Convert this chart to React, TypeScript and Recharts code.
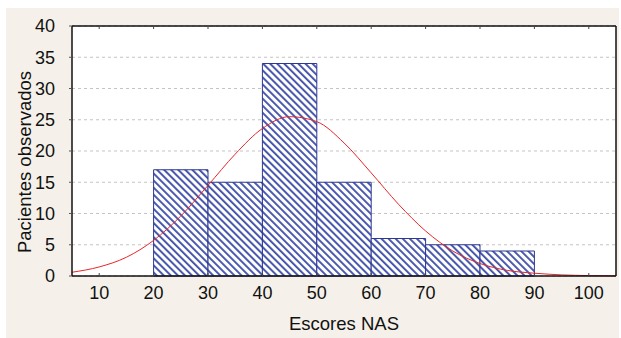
import {
  ComposedChart,
  Line,
  XAxis,
  YAxis,
  CartesianGrid,
  ReferenceArea,
} from "recharts";

// histogram bins (edges) and observed counts
const binEdges = [20, 30, 40, 50, 60, 70, 80, 90];
const binCounts = [17, 15, 34, 15, 6, 5, 4];

// expected normal curve
const curveX = [5, 10, 15, 20, 25, 30, 35, 40, 45, 50, 55, 60, 65, 70, 75, 80, 85, 90, 95, 100, 105];
const curveY = [0.6, 1.45, 3.0, 5.7, 9.6, 14.5, 19.5, 23.6, 25.5, 24.7, 21.3, 16.5, 11.5, 7.2, 4.0, 2.0, 0.9, 0.45, 0.18, 0.07, 0.03];

const xTicks = [10, 20, 30, 40, 50, 60, 70, 80, 90, 100];
const yTicks = [0, 5, 10, 15, 20, 25, 30, 35, 40];

const curve = curveX.map((x, i) => ({ x, y: curveY[i] }));
const bins = binCounts.map((n, i) => ({ from: binEdges[i], to: binEdges[i + 1], n }));

const FONT = "'Liberation Sans', Arial, sans-serif";
const blank = () => "";

export default function App() {
  return (
    <div style={{ position: "absolute", left: 0, top: 0, width: 621, height: 338, background: "#fff" }}>
      <div
        style={{ position: "absolute", left: 6, top: 8, width: 613, height: 330, background: "#f5f1ea" }}
      />
      <div style={{ position: "absolute", left: 0, top: 0 }}>
        <ComposedChart
          width={621}
          height={338}
          data={curve}
          margin={{ top: 26, right: 5, bottom: 0, left: 0 }}
          style={{ fontFamily: FONT }}
        >
          <defs>
            <pattern
              id="hatch"
              patternUnits="userSpaceOnUse"
              width="5"
              height="5"
              patternTransform="rotate(-45)"
            >
              <rect width="5" height="5" fill="#ffffff" />
              <rect width="1.9" height="5" fill="#4252aa" />
            </pattern>
          </defs>
          <CartesianGrid
            vertical={false}
            fill="#ffffff"
            stroke="#c4c4c4"
            strokeDasharray="3 3"
          />
          <XAxis
            dataKey="x"
            type="number"
            domain={[5, 105]}
            ticks={xTicks}
            interval={0}
            height={62}
            tickLine={false}
            tickSize={0}
            tickMargin={10}
            axisLine={{ stroke: "#111", strokeWidth: 1.5 }}
            tick={{ fill: "#111", fontSize: 18 }}
            label={{
              value: "Escores NAS",
              position: "insideBottom",
              offset: 8,
              style: { fill: "#111", fontSize: 18.5 },
            }}
          />
          <XAxis
            xAxisId="bt"
            dataKey="x"
            type="number"
            orientation="bottom"
            mirror
            domain={[5, 105]}
            ticks={xTicks}
            interval={0}
            axisLine={false}
            tickSize={3}
            tickLine={{ stroke: "#444" }}
            tickFormatter={blank}
          />
          <XAxis
            xAxisId="top"
            dataKey="x"
            type="number"
            orientation="top"
            mirror
            domain={[5, 105]}
            ticks={xTicks}
            interval={0}
            axisLine={{ stroke: "#111", strokeWidth: 1.5 }}
            tickSize={3}
            tickLine={{ stroke: "#444" }}
            tickFormatter={blank}
          />
          <YAxis
            type="number"
            domain={[0, 40]}
            ticks={yTicks}
            interval={0}
            width={72}
            tickSize={3}
            tickMargin={14}
            tickLine={{ stroke: "#555" }}
            axisLine={{ stroke: "#111", strokeWidth: 1.5 }}
            tick={{ fill: "#111", fontSize: 18 }}
            label={{
              value: "Pacientes observados",
              angle: -90,
              position: "center",
              dx: -12,
              dy: 11,
              style: { fill: "#111", fontSize: 18.5, textAnchor: "middle" },
            }}
          />
          <YAxis
            yAxisId="right"
            type="number"
            orientation="right"
            mirror
            domain={[0, 40]}
            ticks={yTicks}
            interval={0}
            tickSize={3}
            tickLine={{ stroke: "#444" }}
            axisLine={{ stroke: "#111", strokeWidth: 1.5 }}
            tickFormatter={blank}
          />
          {bins.map((b) => (
            <ReferenceArea
              key={b.from}
              x1={b.from}
              x2={b.to}
              y1={0}
              y2={b.n}
              fill="url(#hatch)"
              fillOpacity={1}
              stroke="#2c3893"
              strokeWidth={1}
            />
          ))}
          <Line
            dataKey="y"
            type="monotone"
            stroke="#e8262a"
            strokeWidth={1}
            dot={false}
            activeDot={false}
            isAnimationActive={false}
          />
        </ComposedChart>
      </div>
    </div>
  );
}
